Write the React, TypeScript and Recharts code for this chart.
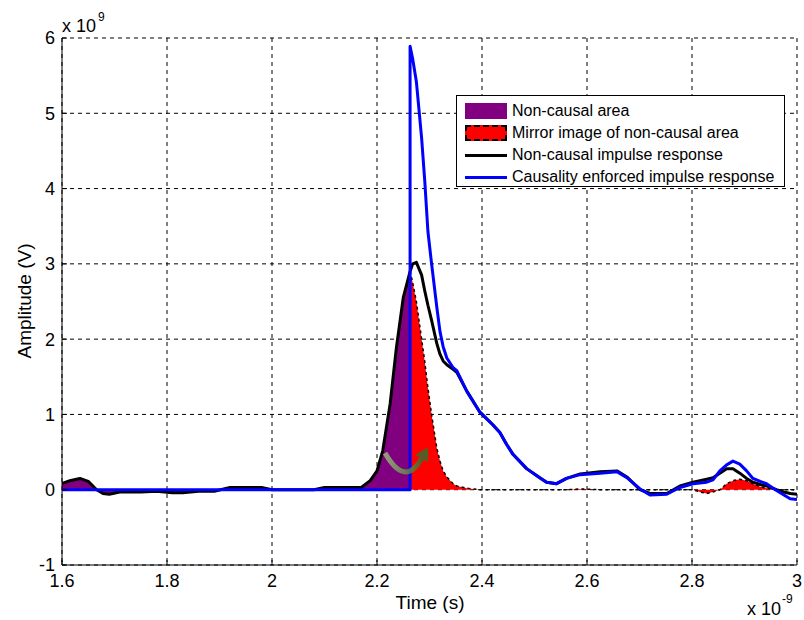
import {
  ComposedChart,
  XAxis,
  YAxis,
  CartesianGrid,
  Area,
  Line,
  Legend,
  ReferenceDot,
} from "recharts";

const FONT = '"Liberation Sans", Arial, Helvetica, sans-serif';

// time axis in units of 1e-9 s, amplitudes in units of 1e9 V
const time = [
  1.6, 1.615, 1.634, 1.65, 1.666, 1.678, 1.69, 1.71, 1.75, 1.78,
  1.81, 1.83, 1.86, 1.89, 1.92, 1.98, 2.0, 2.08, 2.1, 2.17,
  2.187, 2.2, 2.211, 2.225, 2.237, 2.25, 2.263, 2.263, 2.268, 2.275,
  2.285, 2.291, 2.297, 2.304, 2.314, 2.32, 2.326, 2.333, 2.345, 2.352,
  2.371, 2.396, 2.421, 2.434, 2.447, 2.459, 2.485, 2.51, 2.523, 2.542,
  2.561, 2.587, 2.625, 2.657, 2.676, 2.701, 2.72, 2.752, 2.777, 2.802,
  2.815, 2.828, 2.84, 2.853, 2.866, 2.878, 2.891, 2.904, 2.916, 2.93,
  2.942, 2.961, 2.975, 2.987, 3.0,
];

// black: non-causal impulse response
const nonCausal = [
  0.08, 0.12, 0.15, 0.11, 0.0, -0.05, -0.06, -0.03, -0.03, -0.02,
  -0.04, -0.04, -0.02, -0.02, 0.03, 0.03, 0.0, 0.0, 0.03, 0.03,
  0.12, 0.25, 0.52, 1.14, 1.89, 2.55, 2.9, 2.9, 3.0, 3.02,
  2.85, 2.64, 2.45, 2.25, 1.94, 1.8, 1.71, 1.66, 1.6, 1.56,
  1.31, 1.03, 0.86, 0.76, 0.6, 0.47, 0.28, 0.16, 0.1, 0.08,
  0.15, 0.21, 0.24, 0.25, 0.17, 0.0, -0.05, -0.05, 0.05, 0.1,
  0.12, 0.14, 0.16, 0.22, 0.28, 0.28, 0.22, 0.15, 0.1, 0.07,
  0.05, 0.0, -0.03, -0.05, -0.06,
];

// blue: causality enforced impulse response
const causal = [
  0, 0, 0, 0, 0, 0, 0, 0, 0, 0,
  0, 0, 0, 0, 0, 0, 0, 0, 0, 0,
  0, 0, 0, 0, 0, 0, 0, 5.89, 5.72, 5.42,
  4.67, 4.1, 3.43, 3.0, 2.42, 2.1, 1.9, 1.75, 1.62, 1.58,
  1.31, 1.03, 0.86, 0.76, 0.6, 0.47, 0.28, 0.16, 0.1, 0.08,
  0.15, 0.2, 0.22, 0.24, 0.16, 0.01, -0.07, -0.06, 0.03, 0.08,
  0.09, 0.1, 0.13, 0.25, 0.33, 0.38, 0.34, 0.25, 0.15, 0.11,
  0.08, -0.01, -0.07, -0.12, -0.13,
];

// purple: non-causal area (before the peak time)
const nonCausalArea = [
  0.08, 0.12, 0.15, 0.11, 0.0, -0.05, -0.06, -0.03, -0.03, -0.02,
  -0.04, -0.04, -0.02, -0.02, 0.03, 0.03, 0.0, 0.0, 0.03, 0.03,
  0.12, 0.25, 0.52, 1.14, 1.89, 2.55, 2.9, null, null, null,
  null, null, null, null, null, null, null, null, null, null,
  null, null, null, null, null, null, null, null, null, null,
  null, null, null, null, null, null, null, null, null, null,
  null, null, null, null, null, null, null, null, null, null,
  null, null, null, null, null,
];

// red: mirror image of the non-causal area
const mirrorArea = [
  null, null, null, null, null, null, null, null, null, null,
  null, null, null, null, null, null, null, null, null, null,
  null, null, null, null, null, null, null, 2.9, 2.75, 2.5,
  2.0, 1.7, 1.35, 1.0, 0.55, 0.38, 0.25, 0.17, 0.08, 0.05,
  0.02, 0, 0, 0, 0, 0, 0, 0, 0, 0,
  0, 0.01, 0, 0, 0, 0, 0, 0, 0, 0,
  -0.03, -0.05, -0.03, 0.0, 0.08, 0.12, 0.14, 0.12, 0.08, 0.04,
  0.02, 0, 0, 0, 0,
];

const xTicks = [1.6, 1.8, 2, 2.2, 2.4, 2.6, 2.8, 3];
const yTicks = [-1, 0, 1, 2, 3, 4, 5, 6];

const legendItems = [
  { label: "Non-causal area", kind: "fill", color: "#800080" },
  { label: "Mirror image of non-causal area", kind: "dashedFill", color: "#ff0000" },
  { label: "Non-causal impulse response", kind: "line", color: "#000000" },
  { label: "Causality enforced impulse response", kind: "line", color: "#0000ff" },
];

const data = time.map((t, i) => ({
  t,
  nonCausal: nonCausal[i],
  causal: causal[i],
  nonCausalArea: nonCausalArea[i],
  mirrorArea: mirrorArea[i],
}));

const renderLegend = () => (
  <div
    style={{
      boxSizing: "border-box",
      width: 329,
      height: 92,
      border: "1px solid #000",
      background: "#fff",
      paddingTop: 4,
      fontFamily: FONT,
      fontSize: 16,
      color: "#000",
    }}
  >
    {legendItems.map((item) => (
      <div
        key={item.label}
        style={{ display: "flex", alignItems: "center", height: 22, whiteSpace: "nowrap" }}
      >
        <div
          style={{
            width: 42,
            marginLeft: 8,
            marginRight: 5,
            display: "flex",
            alignItems: "center",
            justifyContent: "center",
          }}
        >
          {item.kind === "fill" && (
            <div style={{ width: 42, height: 16, background: item.color }} />
          )}
          {item.kind === "dashedFill" && (
            <div
              style={{
                boxSizing: "border-box",
                width: 42,
                height: 16,
                background: item.color,
                border: "2px dashed #000",
              }}
            />
          )}
          {item.kind === "line" && (
            <div style={{ width: 42, height: 3, background: item.color }} />
          )}
        </div>
        <span>{item.label}</span>
      </div>
    ))}
  </div>
);

const SwapArrow = (props: any) => {
  const { cx, cy } = props;
  if (cx == null || cy == null) return null;
  return (
    <g opacity={0.85}>
      <defs>
        <linearGradient id="swapArrowGrad" x1="0" y1="0" x2="1" y2="0">
          <stop offset="0%" stopColor="#9ab87a" />
          <stop offset="100%" stopColor="#3c6c2c" />
        </linearGradient>
      </defs>
      <path
        d={`M${cx - 25},${cy + 1} Q${cx - 5},${cy + 36} ${cx + 12},${cy + 6}`}
        fill="none"
        stroke="url(#swapArrowGrad)"
        strokeWidth={5}
      />
      <polygon
        points={`${cx + 18},${cy - 5} ${cx + 5},${cy + 3} ${cx + 18},${cy + 10}`}
        fill="#3c6c2c"
      />
    </g>
  );
};

export default function App() {
  return (
    <div style={{ position: "absolute", left: 0, top: 0, width: 804, height: 620, background: "#fff" }}>
      <ComposedChart
        width={804}
        height={620}
        data={data}
        margin={{ top: 38, right: 7, bottom: 0, left: 0 }}
      >
        <CartesianGrid stroke="#000" strokeDasharray="4 4" />
        <XAxis
          dataKey="t"
          type="number"
          domain={[1.6, 3]}
          ticks={xTicks}
          interval={0}
          allowDataOverflow
          height={55}
          tickSize={-5}
          tickMargin={14}
          axisLine={{ stroke: "#000" }}
          tickLine={{ stroke: "#000" }}
          tick={{ fill: "#000", fontSize: 18, fontFamily: FONT }}
        />
        <XAxis
          xAxisId="top"
          orientation="top"
          dataKey="t"
          type="number"
          domain={[1.6, 3]}
          ticks={xTicks}
          interval={0}
          allowDataOverflow
          height={0}
          tickSize={-5}
          tickFormatter={() => ""}
          axisLine={{ stroke: "#000" }}
          tickLine={{ stroke: "#000" }}
        />
        <YAxis
          type="number"
          domain={[-1, 6]}
          ticks={yTicks}
          interval={0}
          allowDataOverflow
          width={62}
          tickSize={-5}
          tickMargin={12}
          axisLine={{ stroke: "#000" }}
          tickLine={{ stroke: "#000" }}
          tick={{ fill: "#000", fontSize: 18, fontFamily: FONT }}
        />
        <YAxis
          yAxisId="right"
          orientation="right"
          type="number"
          domain={[-1, 6]}
          ticks={yTicks}
          interval={0}
          width={0}
          tickSize={-5}
          tickFormatter={() => ""}
          axisLine={{ stroke: "#000" }}
          tickLine={{ stroke: "#000" }}
        />
        <Area
          dataKey="nonCausalArea"
          type="linear"
          baseValue={0}
          fill="#800080"
          fillOpacity={1}
          stroke="none"
          isAnimationActive={false}
        />
        <Area
          dataKey="mirrorArea"
          type="linear"
          baseValue={0}
          fill="#ff0000"
          fillOpacity={1}
          stroke="#000"
          strokeWidth={1.5}
          strokeDasharray="3 3"
          isAnimationActive={false}
        />
        <Line
          dataKey="nonCausal"
          type="linear"
          stroke="#000"
          strokeWidth={3}
          strokeLinejoin="round"
          dot={false}
          activeDot={false}
          isAnimationActive={false}
        />
        <ReferenceDot x={2.263} y={0.5} r={0} shape={SwapArrow} />
        <Line
          dataKey="causal"
          type="linear"
          stroke="#0000ff"
          strokeWidth={3}
          strokeLinejoin="round"
          dot={false}
          activeDot={false}
          isAnimationActive={false}
        />
        <Legend
          content={renderLegend}
          layout="vertical"
          align="center"
          verticalAlign="middle"
          wrapperStyle={{ left: 456, top: 95, width: 329, height: 92 }}
        />
        <text x={62} y={32} fontSize={18} fontFamily={FONT} fill="#000">
          x 10
          <tspan dx={2} dy={-11} fontSize={12}>
            9
          </tspan>
        </text>
        <text x={747} y={615} fontSize={18} fontFamily={FONT} fill="#000">
          x 10
          <tspan dx={1} dy={-12} fontSize={12}>
            -9
          </tspan>
        </text>
        <text x={430} y={609} textAnchor="middle" fontSize={19} fontFamily={FONT} fill="#000">
          Time (s)
        </text>
        <text
          transform="translate(31,301) rotate(-90)"
          textAnchor="middle"
          fontSize={19}
          fontFamily={FONT}
          fill="#000"
        >
          Amplitude (V)
        </text>
      </ComposedChart>
    </div>
  );
}
